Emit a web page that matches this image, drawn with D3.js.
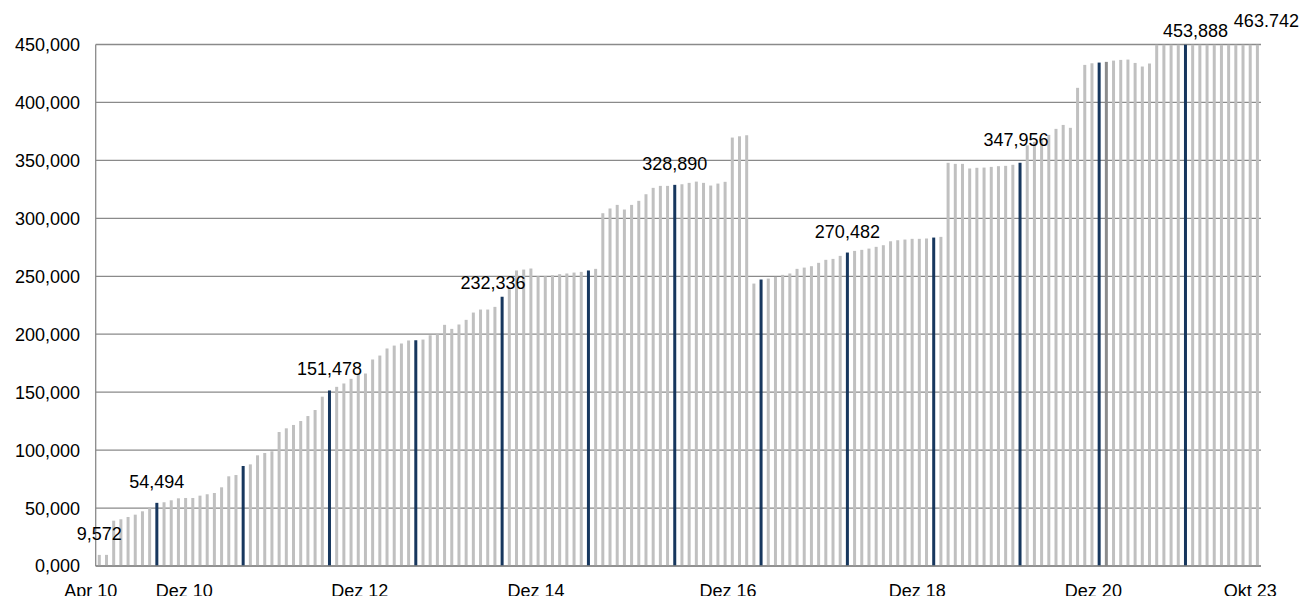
<!DOCTYPE html>
<html lang="de">
<head>
	<meta charset="UTF-8">
	<title>Bestand</title>
	<script src="https://cdn.jsdelivr.net/npm/d3@7/dist/d3.min.js"></script>
	<style>
		body { margin: 0; background: #fff; }
		svg text { font-family: "Liberation Sans", Arial, sans-serif; fill: #000; }
	</style>
</head>
<body>
<div id="chart"></div>
<script>
	// Monatswerte Apr 10 bis Okt 23 (ein Monat fehlt in 2021)
	var monthNames = ["Jan", "Feb", "Mär", "Apr", "Mai", "Jun", "Jul", "Aug", "Sep", "Okt", "Nov", "Dez"];
	var categories = [];
	for (var yr = 2010; yr <= 2023; yr++) {
		for (var m = 0; m < 12; m++) {
			if (yr == 2010 && m < 3) continue;
			if (yr == 2023 && m > 9) continue;
			if (yr == 2021 && m == 5) continue;
			categories.push(monthNames[m] + " " + String(yr).slice(2));
		}
	}

	var values = [
		9572, 9600, 39100, 40300, 42300, 44300, 47200, 50900, 54494, 55000,
		56700, 58400, 58700, 58700, 60700, 61900, 63000, 67900, 77400, 78500,
		86300, 87700, 95500, 97500, 99000, 115600, 118800, 121700, 125100, 129400,
		134600, 146100, 151478, 154600, 157500, 161500, 165200, 166100, 178200, 181600,
		187700, 190200, 192000, 194600, 194800, 195400, 199100, 200000, 208100, 204600,
		208400, 212400, 218700, 221300, 221300, 223600, 232336, 240000, 255000, 255800,
		256700, 250000, 250000, 250900, 251800, 252400, 253200, 253800, 255000, 256400,
		304400, 308500, 311600, 307600, 311600, 315100, 320800, 326300, 328000, 328000,
		328890, 329400, 330600, 331700, 330600, 328300, 330000, 331500, 369700, 370800,
		371700, 243700, 247200, 248000, 249500, 251200, 252400, 256400, 257500, 258700,
		261600, 264200, 265000, 267600, 270482, 271900, 272800, 273900, 275400, 276800,
		280200, 281100, 281700, 282300, 282300, 282600, 283400, 284000, 347900, 347000,
		347000, 343000, 343600, 343800, 344400, 345000, 345300, 346200, 347956, 363000,
		366000, 369000, 372000, 377200, 380600, 378100, 412600, 432400, 433800, 434400,
		435000, 436100, 436700, 437000, 434100, 431000, 433600, 450800, 451500, 452100,
		452900, 453888, 454600, 455400, 456300, 457200, 458300, 459500, 460700, 462000,
		462900, 463742
	];

	// Jahresendwerte (dunkel) und ein einzelner Sonderbalken
	var yearEnd = ["Dez 10", "Dez 11", "Dez 12", "Dez 13", "Dez 14", "Dez 15", "Dez 16",
		"Dez 17", "Dez 18", "Dez 19", "Dez 20", "Dez 21", "Dez 22"];
	var special = ["Jan 22"];

	var labelCats = ["Apr 10", "Dez 10", "Dez 12", "Dez 14", "Dez 16", "Dez 18", "Dez 20", "Dez 22", "Okt 23"];
	var labelTexts = ["9,572", "54,494", "151,478", "232,336", "328,890", "270,482", "347,956", "453,888", "463.742"];

	var tickLabels = ["Apr 10", "Dez 10", "Dez 12", "Dez 14", "Dez 16", "Dez 18", "Dez 20", "Okt 23"];
	var tickAt = [-1.2, 11.8, 36.2, 60.7, 87.4, 113.7, 138.2, 160];

	var yTicks = [0, 50000, 100000, 150000, 200000, 250000, 300000, 350000, 400000, 450000];

	var W = 1301, H = 596;
	var plotL = 95.7, plotR = 1261, plotT = 44.5, plotB = 566;

	var svg = d3.select("#chart").append("svg")
		.attr("width", W)
		.attr("height", H);

	var x = d3.scaleBand()
		.domain(categories)
		.range([plotL, plotR])
		.padding(0);
	var xi = d3.scaleLinear()
		.domain([0, categories.length - 1])
		.range([plotL + x.bandwidth() / 2, plotR - x.bandwidth() / 2]);
	var y = d3.scaleLinear()
		.domain([0, 450000])
		.range([plotB, plotT]);

	// gridlines
	svg.append("g")
		.selectAll("line")
		.data(yTicks)
		.enter()
		.append("line")
		.attr("x1", plotL)
		.attr("x2", plotR)
		.attr("y1", function(d) { return y(d); })
		.attr("y2", function(d) { return y(d); })
		.attr("stroke", "#8a8a8a")
		.attr("stroke-width", 1.3);

	// y labels
	svg.append("g")
		.selectAll("text")
		.data(yTicks)
		.enter()
		.append("text")
		.attr("x", 80)
		.attr("y", function(d) { return y(d); })
		.attr("dy", "0.36em")
		.attr("text-anchor", "end")
		.attr("font-size", 18)
		.text(function(d) { return d == 0 ? "0,000" : d3.format(",")(d); });

	svg.append("clipPath").attr("id", "plot")
		.append("rect")
		.attr("x", plotL).attr("y", plotT)
		.attr("width", plotR - plotL).attr("height", plotB - plotT);

	var bw = 3;
	svg.append("g")
		.attr("clip-path", "url(#plot)")
		.selectAll("rect")
		.data(values)
		.enter()
		.append("rect")
		.attr("x", function(d, i) { return x(categories[i]) + (x.bandwidth() - bw) / 2; })
		.attr("width", bw)
		.attr("y", function(d) { return y(Math.min(d, 450000)); })
		.attr("height", function(d) { return plotB - y(Math.min(d, 450000)); })
		.attr("fill", function(d, i) {
			if (yearEnd.indexOf(categories[i]) >= 0) return "#17375e";
			if (special.indexOf(categories[i]) >= 0) return "#8c8c8c";
			return "#c0c0c0";
		});

	// axis lines
	svg.append("line")
		.attr("x1", plotL).attr("x2", plotL)
		.attr("y1", plotT).attr("y2", plotB)
		.attr("stroke", "#8a8a8a").attr("stroke-width", 1.3);
	svg.append("line")
		.attr("x1", plotL).attr("x2", plotR)
		.attr("y1", plotB).attr("y2", plotB)
		.attr("stroke", "#8a8a8a").attr("stroke-width", 1.3);

	// x labels
	svg.append("g")
		.selectAll("text")
		.data(tickLabels)
		.enter()
		.append("text")
		.attr("x", function(d, i) { return xi(tickAt[i]); })
		.attr("y", 597)
		.attr("text-anchor", "middle")
		.attr("font-size", 18)
		.text(function(d) { return d; });

	// data labels, a few nudged like in the original
	var nudge = { "232,336": [-9, 7], "347,956": [-4, -2], "453,888": [10, 7], "463.742": [9, -3] };
	svg.append("g")
		.selectAll("text")
		.data(labelTexts)
		.enter()
		.append("text")
		.attr("x", function(d, i) {
			var k = categories.indexOf(labelCats[i]);
			return x(categories[k]) + x.bandwidth() / 2 + (nudge[d] ? nudge[d][0] : 0);
		})
		.attr("y", function(d, i) {
			var k = categories.indexOf(labelCats[i]);
			return y(Math.min(values[k], 450000)) - 15 + (nudge[d] ? nudge[d][1] : 0);
		})
		.attr("text-anchor", "middle")
		.attr("font-size", 18)
		.text(function(d) { return d; });
</script>
</body>
</html>
